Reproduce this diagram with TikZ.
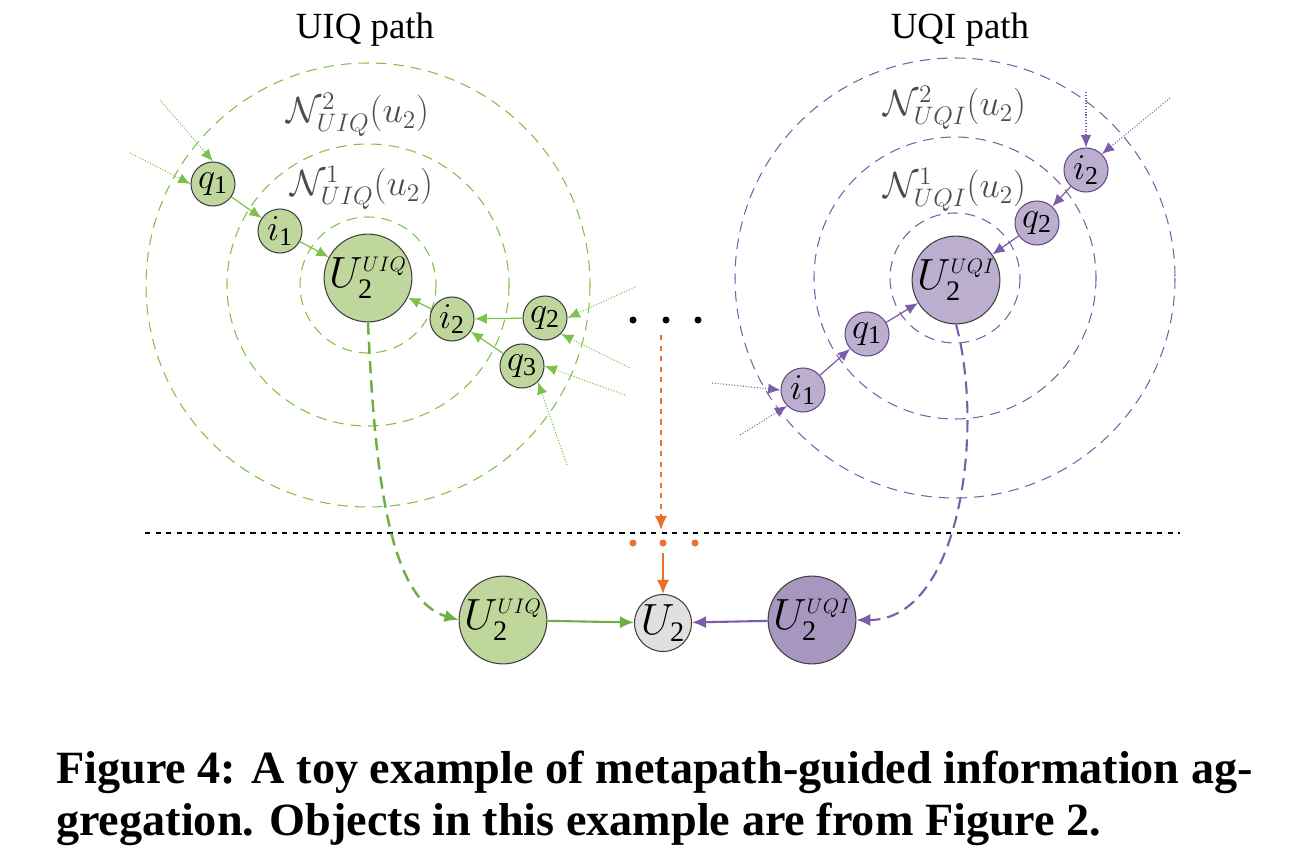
\documentclass[tikz,border=0pt]{standalone}
\usepackage{fontspec}
\setmainfont{Liberation Serif}
\usetikzlibrary{arrows.meta}
\definecolor{gf}{HTML}{BFD69C}
\definecolor{gl}{HTML}{7DC04A}
\definecolor{pf}{HTML}{BCAECF}
\definecolor{pf2}{HTML}{A797C0}
\definecolor{pl}{HTML}{7B5EA7}
\definecolor{og}{HTML}{E8702A}
\newcommand{\sm}[1]{{\scriptscriptstyle #1}}
\begin{document}
\begin{tikzpicture}[x=0.02cm,y=-0.02cm,
 nd/.style={circle,draw=black!75,line width=0.6pt,inner sep=0pt,minimum size=44*0.02cm,font=\fontsize{21}{21}\selectfont\itshape},
 big/.style={nd,minimum size=70*0.02cm,font=\fontsize{23}{23}\selectfont\itshape},
 ring/.style={dash pattern=on 6pt off 4pt,line width=0.6pt},
 ar/.style={-{Latex[length=7pt,width=6pt]},line width=0.7pt},
 dar/.style={-{Latex[length=7pt,width=6pt]},line width=0.6pt,densely dotted},
 lab/.style={text=black!70,font=\fontsize{20}{20}\selectfont}]
\useasboundingbox (0,0) rectangle (1292,862);
\node[font=\fontsize{21}{21}\selectfont] at (365,30) {UIQ path};
\node[font=\fontsize{21}{21}\selectfont] at (960,30) {UQI path};
\foreach \r in {68,141,222} \draw[ring,gl] (368,285) circle (\r);
\foreach \r in {65,141,220} \draw[ring,pl] (955,278) circle (\r);
\node[lab] at (358,115) {$\mathcal{N}^2_{UIQ}(u_2)$};
\node[lab] at (362,188) {$\mathcal{N}^1_{UIQ}(u_2)$};
\node[lab] at (955,108) {$\mathcal{N}^2_{UQI}(u_2)$};
\node[lab] at (955,190) {$\mathcal{N}^1_{UQI}(u_2)$};
% left nodes
\node[nd,fill=gf] (lq1) at (213,184) {$q_{\mathrm{1}}$};
\node[nd,fill=gf] (li1) at (280,231) {$i_{\mathrm{1}}$};
\node[big,fill=gf] (lU) at (368,278) {$U_{\mathrm{2}}^{\sm{UIQ}}$};
\node[nd,fill=gf] (li2) at (452,319) {$i_{\mathrm{2}}$};
\node[nd,fill=gf] (lq2) at (545,318) {$q_{\mathrm{2}}$};
\node[nd,fill=gf] (lq3) at (522,366) {$q_{\mathrm{3}}$};
\draw[ar,gl] (lq1) -- (li1);
\draw[ar,gl] (li1) -- (lU);
\draw[ar,gl] (li2) -- (lU);
\draw[ar,gl] (lq2) -- (li2);
\draw[ar,gl] (lq3) -- (li2);
\coordinate (a1) at (160,100); \coordinate (a2) at (130,153);
\coordinate (a3) at (635,287); \coordinate (a4) at (630,368);
\coordinate (a5) at (625,395); \coordinate (a6) at (567,465);
\draw[dar,gl] (a1) -- (lq1.north); \draw[dar,gl] (a2) -- (lq1.west);
\draw[dar,gl] (a3) -- (lq2.east); \draw[dar,gl] (a4) -- (lq2.south east);
\draw[dar,gl] (a5) -- (lq3.east); \draw[dar,gl] (a6) -- (lq3.south east);
% right nodes
\node[nd,fill=pf,draw=pl!80!black] (ri2) at (1086,170) {$i_{\mathrm{2}}$};
\node[nd,fill=pf,draw=pl!80!black] (rq2) at (1037,223) {$q_{\mathrm{2}}$};
\node[big,fill=pf] (rU) at (956,280) {$U_{\mathrm{2}}^{\sm{UQI}}$};
\node[nd,fill=pf,draw=pl!80!black] (rq1) at (867,334) {$q_{\mathrm{1}}$};
\node[nd,fill=pf,draw=pl!80!black] (ri1) at (803,390) {$i_{\mathrm{1}}$};
\draw[ar,pl] (ri2) -- (rq2);
\draw[ar,pl] (rq2) -- (rU);
\draw[ar,pl] (ri1) -- (rq1);
\draw[ar,pl] (rq1) -- (rU);
\coordinate (b1) at (1086,92); \coordinate (b2) at (1170,98);
\coordinate (b3) at (712,383); \coordinate (b4) at (740,435);
\draw[dar,pl] (b1) -- (ri2.north); \draw[dar,pl] (b2) -- (ri2.north east);
\draw[dar,pl] (b3) -- (ri1.west); \draw[dar,pl] (b4) -- (ri1.south west);
% dots
\foreach \x/\n in {633/d1,666/d2,698/d3} \fill (\x,320) circle (3.5) coordinate (\n);
\draw[dashed,black,line width=0.6pt] (145,533) -- (1180,533);
\foreach \x/\n in {633/e1,663/e2,695/e3} \fill[og] (\x,543) circle (3.5) coordinate (\n);
\coordinate (o1) at (661,335); \coordinate (o2) at (661,530);
\draw[og,dashed,line width=1pt,-{Latex[length=8pt,width=7pt]}] (o1) -- (o2);
% bottom
\node[nd,minimum size=64*0.02cm,fill=gf,font=\fontsize{23}{23}\selectfont\itshape] (bU1) at (503,620) {$U_{\mathrm{2}}^{\sm{UIQ}}$};
\node[nd,minimum size=50*0.02cm,fill=black!12,font=\fontsize{23}{23}\selectfont\itshape] (bU) at (663,623) {$U_{\mathrm{2}}$};
\node[nd,minimum size=64*0.02cm,fill=pf2,font=\fontsize{23}{23}\selectfont\itshape] (bU2) at (812,620) {$U_{\mathrm{2}}^{\sm{UQI}}$};
\coordinate (o3) at (663,553);
\draw[og,line width=1pt,-{Latex[length=8pt,width=7pt]}] (o3) -- (bU);
\draw[gl!90!black,line width=1.2pt,-{Latex[length=8pt,width=7pt]}] (bU1) -- (bU);
\draw[pl,line width=1.2pt,-{Latex[length=8pt,width=7pt]}] (bU2) -- (bU);
\draw[gl!90!black,dash pattern=on 7pt off 4pt,line width=1.4pt,-{Latex[length=8pt,width=7pt]}] (lU.south) .. controls (375,480) and (390,600) .. (bU1.west);
\draw[pl,dash pattern=on 7pt off 4pt,line width=1.2pt,-{Latex[length=8pt,width=7pt]}] (rU.south) .. controls (985,430) and (960,620) .. (bU2.east);
% caption
\node[anchor=west,font=\fontsize{26.3}{40}\selectfont\bfseries] at (50,772) {Figure 4: A toy example of metapath-guided information ag-};
\node[anchor=west,font=\fontsize{26.3}{40}\selectfont\bfseries] at (50,824) {gregation. Objects in this example are from Figure 2.};
\end{tikzpicture}
\end{document}
